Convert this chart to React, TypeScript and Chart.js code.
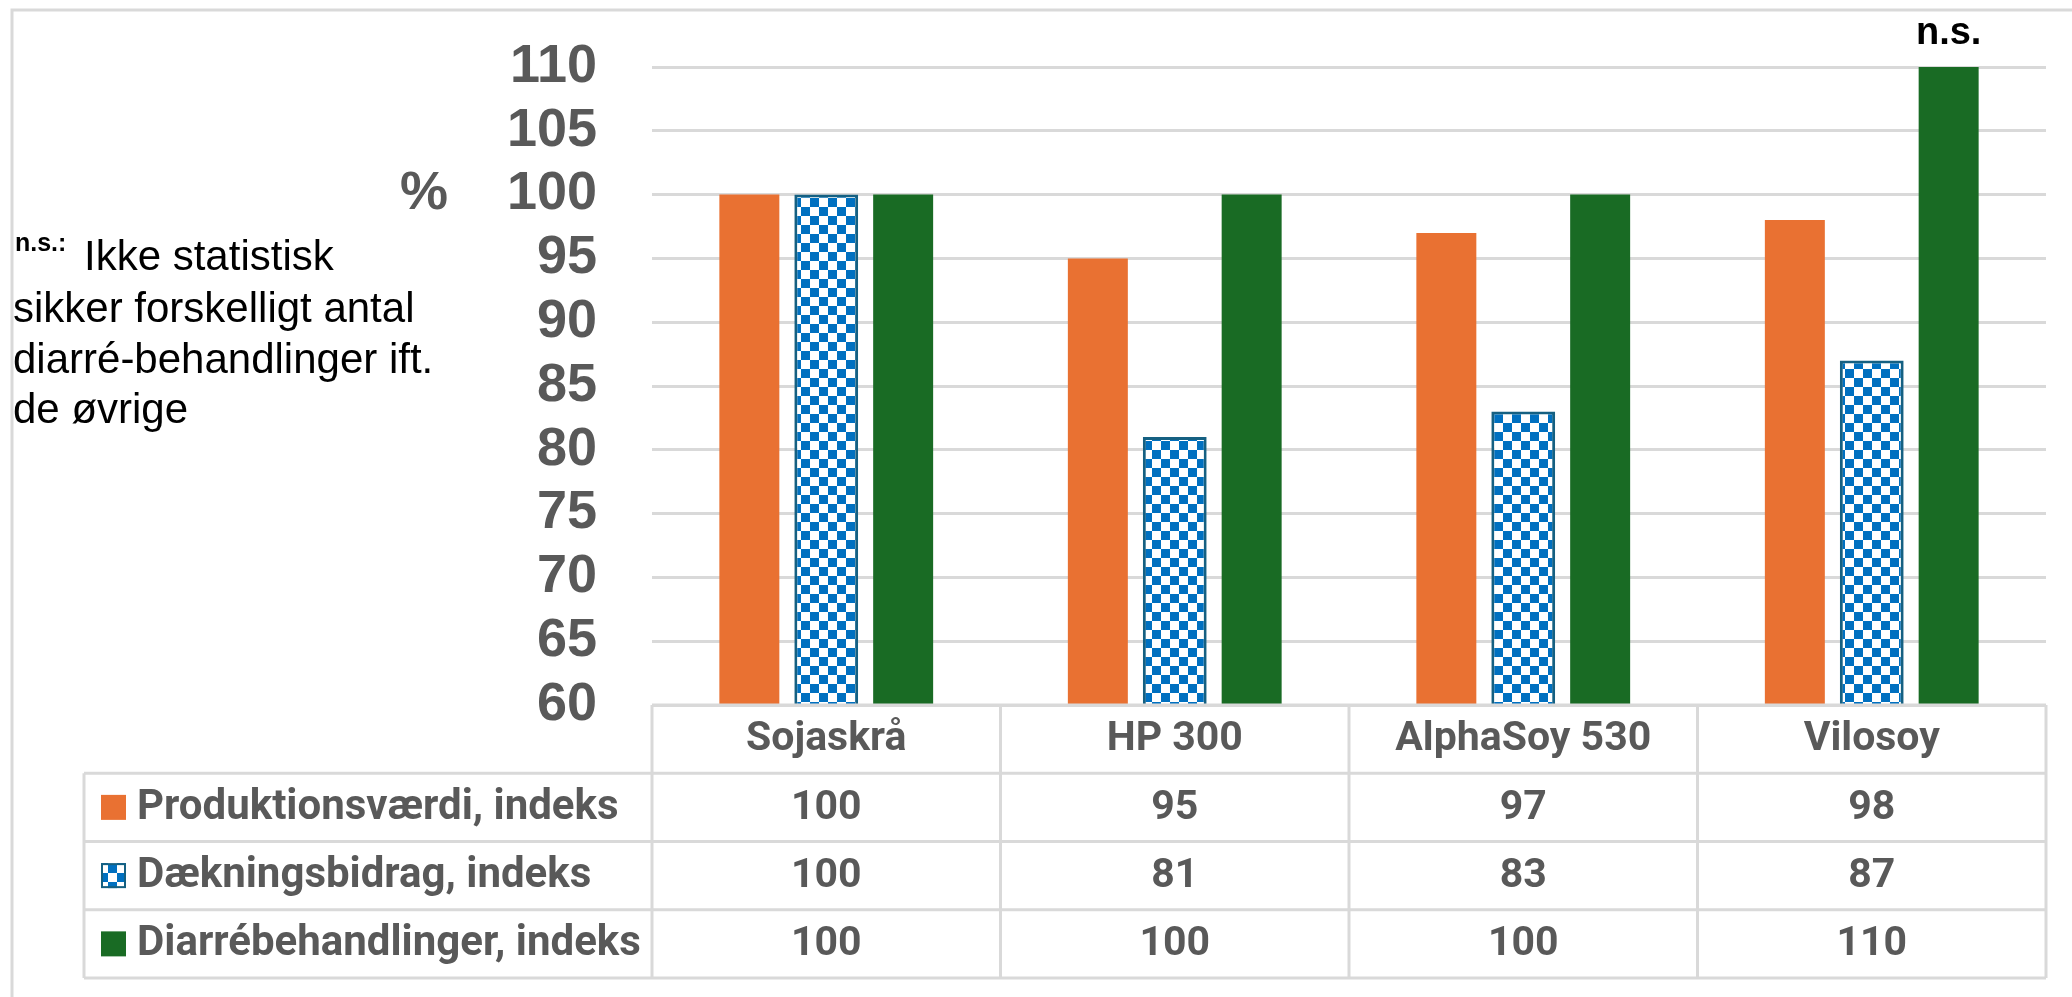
import React, { useEffect, useRef } from "react";
import { Chart, registerables } from "chart.js";

Chart.register(...registerables);

// ---- data ----
const categories = ["Sojaskrå", "HP 300", "AlphaSoy 530", "Vilosoy"];
const seriesNames = [
  "Produktionsværdi, indeks",
  "Dækningsbidrag, indeks",
  "Diarrébehandlinger, indeks",
];
const produktionsvaerdi = [100, 95, 97, 98];
const daekningsbidrag = [100, 81, 83, 87];
const diarrebehandlinger = [100, 100, 100, 110];
const nsLabels = ["", "", "", "n.s."];
const yMin = 60;
const yMax = 110;
const yStep = 5;
const unitLabel = "%";
const notePrefix = "n.s.:";
const noteLines = [
  "Ikke statistisk",
  "sikker forskelligt antal",
  "diarré-behandlinger ift.",
  "de øvrige",
];

// ---- styles ----
const ORANGE = "#E97132";
const BLUE = "#0070C0";
const BLUE_BORDER = "#156082";
const GREEN = "#196B24";
const GRAY = "#595959";
const GRID = "#D9D9D9";
const TABLE_FONT = "bold 41px Roboto, 'Liberation Sans', sans-serif";
const LEGEND_FONT = "bold 42px Roboto, 'Liberation Sans', sans-serif";

function makeChecker(ctx: CanvasRenderingContext2D): CanvasPattern {
  const s = 9;
  const c = document.createElement("canvas");
  c.width = 2 * s;
  c.height = 2 * s;
  const g = c.getContext("2d")!;
  g.fillStyle = "#ffffff";
  g.fillRect(0, 0, 2 * s, 2 * s);
  g.fillStyle = BLUE;
  g.fillRect(0, 0, s, s);
  g.fillRect(s, s, s, s);
  return ctx.createPattern(c, "repeat")!;
}

export default function App() {
  const ref = useRef<HTMLCanvasElement>(null);

  useEffect(() => {
    const canvas = ref.current!;
    const ctx0 = canvas.getContext("2d")!;
    const pattern = makeChecker(ctx0);
    const seriesFill: (string | CanvasPattern)[] = [ORANGE, pattern, GREEN];
    const seriesValues = [produktionsvaerdi, daekningsbidrag, diarrebehandlinger];

    const decorPlugin = {
      id: "decor",
      afterDraw(chart: any) {
        const ctx: CanvasRenderingContext2D = chart.ctx;
        const area = chart.chartArea;
        const xs = chart.scales.x;
        const ys = chart.scales.y;
        ctx.save();

        // outer frame (top + left)
        ctx.strokeStyle = GRID;
        ctx.lineWidth = 3;
        ctx.beginPath();
        ctx.moveTo(12, 997);
        ctx.lineTo(12, 10);
        ctx.lineTo(2072, 10);
        ctx.stroke();

        // unit label
        ctx.fillStyle = GRAY;
        ctx.font = "bold 54px 'Liberation Sans', Arial, sans-serif";
        ctx.textAlign = "right";
        ctx.textBaseline = "middle";
        ctx.fillText(unitLabel, 448, ys.getPixelForValue(100));

        // note
        ctx.fillStyle = "#000";
        ctx.textAlign = "left";
        ctx.textBaseline = "alphabetic";
        ctx.font = "bold 25px 'Liberation Sans', Arial, sans-serif";
        ctx.fillText(notePrefix, 15, 251);
        ctx.font = "42px 'Liberation Sans', Arial, sans-serif";
        const baselines = [270, 322, 373, 423];
        noteLines.forEach((t, i) => {
          ctx.fillText(t, i === 0 ? 84 : 13, baselines[i]);
        });

        // n.s. labels above bars of last series
        const meta = chart.getDatasetMeta(2);
        ctx.font = "bold 38px 'Liberation Sans', Arial, sans-serif";
        ctx.textAlign = "center";
        ctx.textBaseline = "alphabetic";
        nsLabels.forEach((t, i) => {
          if (!t) return;
          const el = meta.data[i];
          ctx.fillText(t, el.x, el.y - 23);
        });

        // data table
        const top = area.bottom;
        const rowH = 68.25;
        const legendLeft = 84;
        const colW = (xs.right - xs.left) / categories.length;
        const colX = (i: number) => xs.left + i * colW;
        const bottom = top + rowH * 4;

        ctx.strokeStyle = GRID;
        ctx.lineWidth = 3;
        ctx.beginPath();
        ctx.moveTo(colX(0), top);
        ctx.lineTo(colX(categories.length), top);
        for (let r = 1; r <= 4; r++) {
          const y = top + r * rowH;
          ctx.moveTo(legendLeft, y);
          ctx.lineTo(colX(categories.length), y);
        }
        ctx.moveTo(legendLeft, top + rowH);
        ctx.lineTo(legendLeft, bottom);
        for (let i = 0; i <= categories.length; i++) {
          ctx.moveTo(colX(i), top);
          ctx.lineTo(colX(i), bottom);
        }
        ctx.stroke();

        ctx.fillStyle = GRAY;
        ctx.font = TABLE_FONT;
        ctx.textAlign = "center";
        ctx.textBaseline = "middle";
        categories.forEach((c, i) => {
          ctx.fillText(c, xs.getPixelForValue(i), top + rowH / 2 + 1);
        });
        seriesValues.forEach((vals, r) => {
          const cy = top + rowH * (r + 1.5) + 1;
          ctx.font = TABLE_FONT;
          vals.forEach((v, i) => {
            ctx.fillStyle = GRAY;
            ctx.textAlign = "center";
            ctx.fillText(String(v), xs.getPixelForValue(i), cy);
          });
          // legend key
          const ks = 25;
          const kx = 101;
          const ky = cy - ks / 2 - 1;
          ctx.fillStyle = seriesFill[r] as any;
          ctx.fillRect(kx, ky, ks, ks);
          if (r === 1) {
            ctx.strokeStyle = BLUE_BORDER;
            ctx.lineWidth = 2;
            ctx.strokeRect(kx + 1, ky + 1, ks - 2, ks - 2);
          }
          ctx.fillStyle = GRAY;
          ctx.textAlign = "left";
          ctx.font = LEGEND_FONT;
          ctx.fillText(seriesNames[r], 137, cy);
        });

        ctx.restore();
      },
    };

    const chart = new Chart(canvas, {
      type: "bar",
      data: {
        labels: categories,
        datasets: [
          {
            label: seriesNames[0],
            data: produktionsvaerdi,
            backgroundColor: ORANGE,
            borderWidth: 0,
            barPercentage: 0.78,
            categoryPercentage: 0.662,
          },
          {
            label: seriesNames[1],
            data: daekningsbidrag,
            backgroundColor: pattern as any,
            borderColor: BLUE_BORDER,
            borderWidth: 3,
            barPercentage: 0.83,
            categoryPercentage: 0.662,
          },
          {
            label: seriesNames[2],
            data: diarrebehandlinger,
            backgroundColor: GREEN,
            borderWidth: 0,
            barPercentage: 0.78,
            categoryPercentage: 0.662,
          },
        ],
      },
      options: {
        responsive: false,
        animation: false,
        devicePixelRatio: 1,
        layout: { padding: { top: 67, right: 26, bottom: 292, left: 0 } },
        plugins: {
          legend: { display: false },
          tooltip: { enabled: false },
        },
        scales: {
          x: { display: false },
          y: {
            min: yMin,
            max: yMax,
            ticks: {
              stepSize: yStep,
              autoSkip: false,
              padding: 55,
              color: GRAY,
              font: { family: "'Liberation Sans', Arial, sans-serif", size: 54, weight: "bold" },
            },
            grid: { color: GRID, lineWidth: 3, drawTicks: false },
            border: { display: false },
            afterFit: (s: any) => {
              s.width = 652;
              s.paddingTop = 0;
              s.paddingBottom = 0;
            },
          },
        },
      } as any,
      plugins: [decorPlugin],
    });

    return () => chart.destroy();
  }, []);

  return (
    <div
      style={{
        position: "fixed",
        left: 0,
        top: 0,
        width: 2072,
        height: 997,
        background: "#ffffff",
      }}
    >
      <canvas ref={ref} width={2072} height={997} style={{ display: "block", width: 2072, height: 997 }} />
    </div>
  );
}
